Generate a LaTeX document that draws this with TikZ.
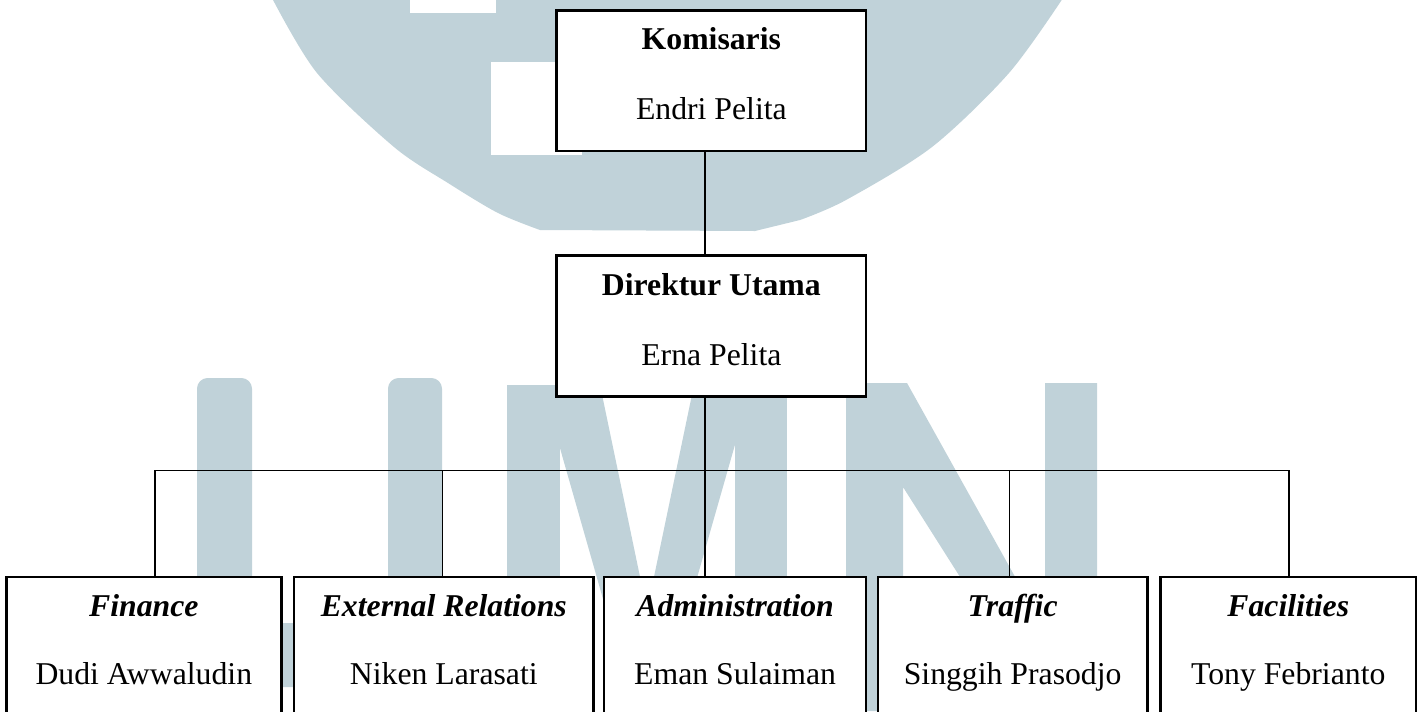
\documentclass[tikz,border=0pt]{standalone}
\usepackage{fontspec}
\setmainfont{Liberation Serif}
\usetikzlibrary{fit,calc}
\definecolor{wm}{RGB}{192,210,217}
\begin{document}
\begin{tikzpicture}[x=0.75pt,y=-0.75pt,
  box/.style={draw=black,line width=1.3pt,fill=white,inner sep=0pt},
  conn/.style={draw=black,line width=1pt},
  lbl/.style={anchor=base,inner sep=0pt,font=\fontsize{23.8pt}{28pt}\selectfont},
  ttl/.style={lbl,font=\fontsize{23.8pt}{28pt}\selectfont\bfseries},
  dept/.style={lbl,font=\fontsize{23.8pt}{28pt}\selectfont\bfseries\itshape}]
\useasboundingbox (0,0) rectangle (1419,711);
\clip (0,0) rectangle (1419,711);
\fill[white] (0,0) rectangle (1419,711);
% watermark
\fill[wm] plot[smooth] coordinates {(272,-2) (317,73) (394,147) (448,183) (498,213) (540,230)}
  -- (755,231) -- plot[smooth] coordinates {(800,220) (846,200) (932,147) (1009,73) (1063,-2)} -- cycle;
\fill[white] (491,62) rectangle (582,155);
\fill[white] (410,-2) rectangle (496,13);
\fill[wm,rounded corners=8] (197,378) -- (252,378) -- (252,623) -- (388,623) -- (388,378) -- (442,378) -- (442,687) -- (197,687) -- cycle;
\fill[wm] (507,385) rectangle (560,711);
\fill[wm] (735,385) rectangle (787,711);
\fill[wm] (542,385) -- (600,385) -- (649,620) -- (609,620) -- cycle;
\fill[wm] (752,385) -- (694,385) -- (645,620) -- (685,620) -- cycle;
\fill[wm] (609,619) -- (685,619) -- (647,690) -- cycle;
\fill[wm] (846,383) -- (907,383) -- (1045,630.6) -- (1045,383) -- (1097,383) -- (1097,711)
  -- (1045,711) -- (903,487) -- (903,711) -- (846,711) -- cycle;
% boxes
\node[box, fit={(557,10.7) (865.7,150.6)}] (kom) {};
\node[box, fit={(557,256) (865.7,396)}] (dir) {};
\node[box, fit={(6.7,577.3) (281,730)}] (fin) {};
\node[box, fit={(294.3,577.3) (593.3,730)}] (ext) {};
\node[box, fit={(604.5,577.3) (865.7,730)}] (adm) {};
\node[box, fit={(878.3,577.3) (1147,730)}] (tra) {};
\node[box, fit={(1161,577.3) (1415.5,730)}] (fac) {};
% connectors
\coordinate (b1) at (155,470.7);
\coordinate (b2) at (442.7,470.7);
\coordinate (b3) at (705,470.7);
\coordinate (b4) at (1009.3,470.7);
\coordinate (b5) at (1289,470.7);
\draw[conn] (b3 |- kom.south) -- (b3 |- dir.north);
\draw[conn] (b3 |- dir.south) -- (b3);
\draw[conn] (b1 |- fin.north) -- (b1) -- (b5) -- (b5 |- fac.north);
\draw[conn] (b2) -- (b2 |- ext.north);
\draw[conn] (b3) -- (b3 |- adm.north);
\draw[conn] (b4) -- (b4 |- tra.north);
% redraw box borders over connector ends
\foreach \n in {kom,dir,fin,ext,adm,tra,fac} {\draw[line width=1.3pt] (\n.north west) rectangle (\n.south east);}
% texts
\node[ttl] (komT) at ($(kom.north)+(0,40)$) {Komisaris};
\node[lbl] (komN) at ($(kom.north)+(0,109.3)$) {Endri Pelita};
\node[ttl] (dirT) at ($(dir.north)+(0,40.7)$) {Direktur Utama};
\node[lbl] (dirN) at ($(dir.north)+(0,110.3)$) {Erna Pelita};
\node[dept] (finT) at ($(fin.north)+(0,39.6)$) {Finance};
\node[lbl] (finN) at ($(fin.north)+(0,108.5)$) {Dudi Awwaludin};
\node[dept] (extT) at ($(ext.north)+(0,39.6)$) {External Relations};
\node[lbl] (extN) at ($(ext.north)+(0,108.5)$) {Niken Larasati};
\node[dept] (admT) at ($(adm.north)+(0,39.6)$) {Administration};
\node[lbl] (admN) at ($(adm.north)+(0,108.5)$) {Eman Sulaiman};
\node[dept] (traT) at ($(tra.north)+(0,39.6)$) {Traffic};
\node[lbl] (traN) at ($(tra.north)+(0,108.5)$) {Singgih Prasodjo};
\node[dept] (facT) at ($(fac.north)+(0,39.6)$) {Facilities};
\node[lbl] (facN) at ($(fac.north)+(0,108.5)$) {Tony Febrianto};
\end{tikzpicture}
\end{document}
